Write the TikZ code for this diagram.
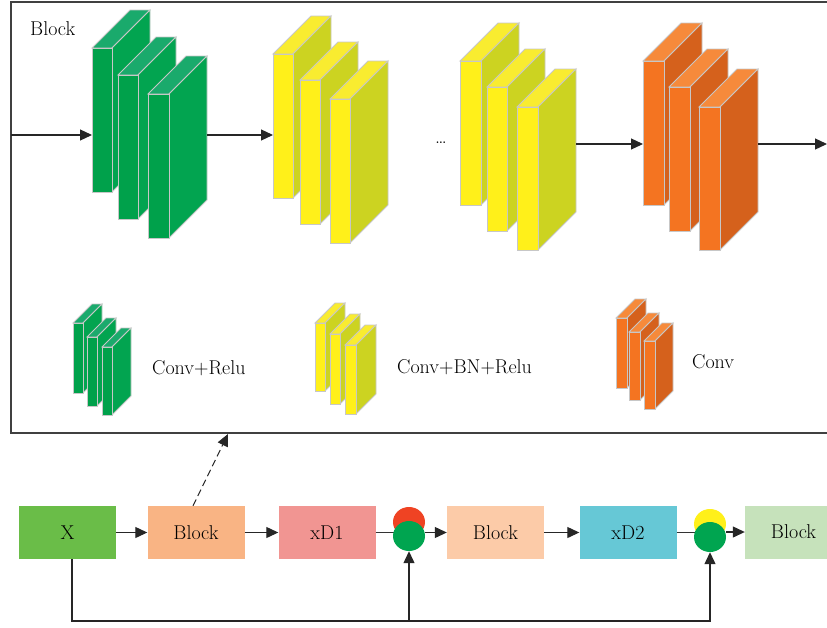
\documentclass[tikz,border=0pt]{standalone}
\usepackage{fontspec}
\usepackage{xcolor}
\usepackage{tikz}
\usetikzlibrary{shapes.geometric,arrows.meta}
\definecolor{grF}{RGB}{0,161,75}
\definecolor{grS}{RGB}{2,164,80}
\definecolor{grT}{RGB}{26,170,108}
\definecolor{ylF}{RGB}{255,240,26}
\definecolor{ylS}{RGB}{204,211,33}
\definecolor{ylT}{RGB}{249,236,48}
\definecolor{orF}{RGB}{244,116,33}
\definecolor{orS}{RGB}{213,97,28}
\definecolor{orT}{RGB}{246,138,59}
\definecolor{xbox}{RGB}{106,189,72}
\definecolor{blkA}{RGB}{249,180,132}
\definecolor{blkB}{RGB}{252,203,168}
\definecolor{blkC}{RGB}{198,226,187}
\definecolor{dA}{RGB}{241,149,146}
\definecolor{dB}{RGB}{102,200,214}
\definecolor{redc}{RGB}{239,67,35}
\definecolor{grc}{RGB}{0,165,80}
\definecolor{ylc}{RGB}{255,240,26}
\tikzstyle{slabline}=[draw=black!22,line width=0.9pt]
\tikzstyle{arr}=[line width=1.2pt,draw=black!85,-{Triangle[length=12pt,width=11pt]}]
\tikzstyle{link}=[line width=1.4pt,draw=black!80]
\tikzstyle{box}=[minimum width=97pt,minimum height=53pt,inner sep=0pt,font=\fontsize{20}{22}\selectfont]
\tikzstyle{dot}=[ellipse,inner sep=0pt,minimum width=32pt,minimum height=30pt]
\tikzstyle{lbl}=[anchor=west,inner sep=0pt,font=\fontsize{20}{22}\selectfont]
% one slab: x, y, width, height, depth, colour
\def\slab#1#2#3#4#5#6{%
  \filldraw[slabline,fill=#6T] (#1,#2) -- ++(#5,-#5) -- ++(#3,0) -- ++(-#5,#5) -- cycle;
  \filldraw[slabline,fill=#6S] (#1+#3,#2) -- ++(#5,-#5) -- ++(0,#4) -- ++(-#5,#5) -- cycle;
  \filldraw[slabline,fill=#6F] (#1,#2) rectangle ++(#3,#4);
}
\begin{document}
\begin{tikzpicture}[x=1pt,y=-1pt]
  \useasboundingbox (0,0) rectangle (827,627);
  \draw[line width=1.3pt,black!75] (11,2) rectangle (845,433);
  \node[lbl] (title) at (30,29) {Block};
  % main stacks
  \slab{92}{48}{20}{144}{38}{gr}
  \slab{118}{75}{20}{144}{38}{gr}
  \slab{148}{94}{21}{144}{38}{gr}
  \slab{273}{54}{20}{144}{38}{yl}
  \slab{300}{80}{20}{144}{38}{yl}
  \slab{330}{99}{20}{144}{38}{yl}
  \slab{460}{61}{21}{144}{38}{yl}
  \slab{487}{87}{20}{144}{38}{yl}
  \slab{517}{107}{21}{143}{38}{yl}
  \slab{643}{61}{21}{144}{38}{or}
  \slab{669}{87}{21}{144}{38}{or}
  \slab{699}{107}{21}{143}{38}{or}
  \coordinate (in) at (11,135);
  \coordinate (g1) at (92,135);
  \coordinate (g2) at (207,135);
  \coordinate (y1) at (273,135);
  \coordinate (y2) at (576,144);
  \coordinate (o1) at (643,144);
  \coordinate (o2) at (758,144);
  \coordinate (out) at (827,144);
  \draw[arr] (in) -- (g1);
  \draw[arr] (g2) -- (y1);
  \draw[arr] (y2) -- (o1);
  \draw[arr] (o2) -- (out);
  \node[inner sep=0pt] (dots) at (441,143) {\fontsize{20}{22}\selectfont\dots};
  % legend
  \slab{73}{323}{10}{70}{19}{gr}
  \slab{87}{337}{10}{69}{19}{gr}
  \slab{102}{347}{10}{68}{19}{gr}
  \slab{315}{323}{10}{68}{20}{yl}
  \slab{330}{334}{10}{70}{20}{yl}
  \slab{345}{345}{11}{69}{20}{yl}
  \slab{616}{318}{11}{70}{19}{or}
  \slab{629}{332}{11}{68}{19}{or}
  \slab{644}{341}{11}{68}{18}{or}
  \node[lbl] (l1) at (152,368) {Conv+Relu};
  \node[lbl] (l2) at (397,367) {Conv+BN+Relu};
  \node[lbl] (l3) at (692,362) {Conv};
  % lower chain
  \node[box,fill=xbox] (x) at (67.5,532.5) {X};
  \node[box,fill=blkA] (b1) at (196,532.5) {Block};
  \node[box,fill=dA] (d1) at (327,532.5) {xD1};
  \node[box,fill=blkB] (b2) at (495.5,532.5) {Block};
  \node[box,fill=dB] (d2) at (628,532.5) {xD2};
  \node[box,fill=blkC] (b3) at (793.5,532) {Block};
  \coordinate (j1) at (409,532.5);
  \coordinate (j2) at (710,532.5);
  \draw[link] (d1.east) -- (j1);
  \draw[link] (d2.east) -- (j2);
  \node[dot,fill=redc] (c1t) at (409,522) {};
  \node[dot,fill=grc] (c1) at (409,536) {};
  \node[dot,fill=ylc] (c2t) at (710,524) {};
  \node[dot,fill=grc] (c2) at (710,537) {};
  \coordinate (skip) at (72,621);
  \coordinate (fb) at (228,434);
  \draw[arr] (x.east) -- (b1.west);
  \draw[arr] (b1.east) -- (d1.west);
  \draw[arr] (c1.east |- b2.west) -- (b2.west);
  \draw[arr] (b2.east) -- (d2.west);
  \draw[arr] (c2.east |- b3.west) -- (b3.west);
  \draw[arr] (x.south -| skip) |- (skip -| c2) -- (c2.south);
  \draw[arr] (skip -| c1) -- (c1.south);
  \draw[arr,dash pattern=on 7pt off 4pt,line width=1pt] ([xshift=-3pt]b1.north) -- (fb);
\end{tikzpicture}
\end{document}
